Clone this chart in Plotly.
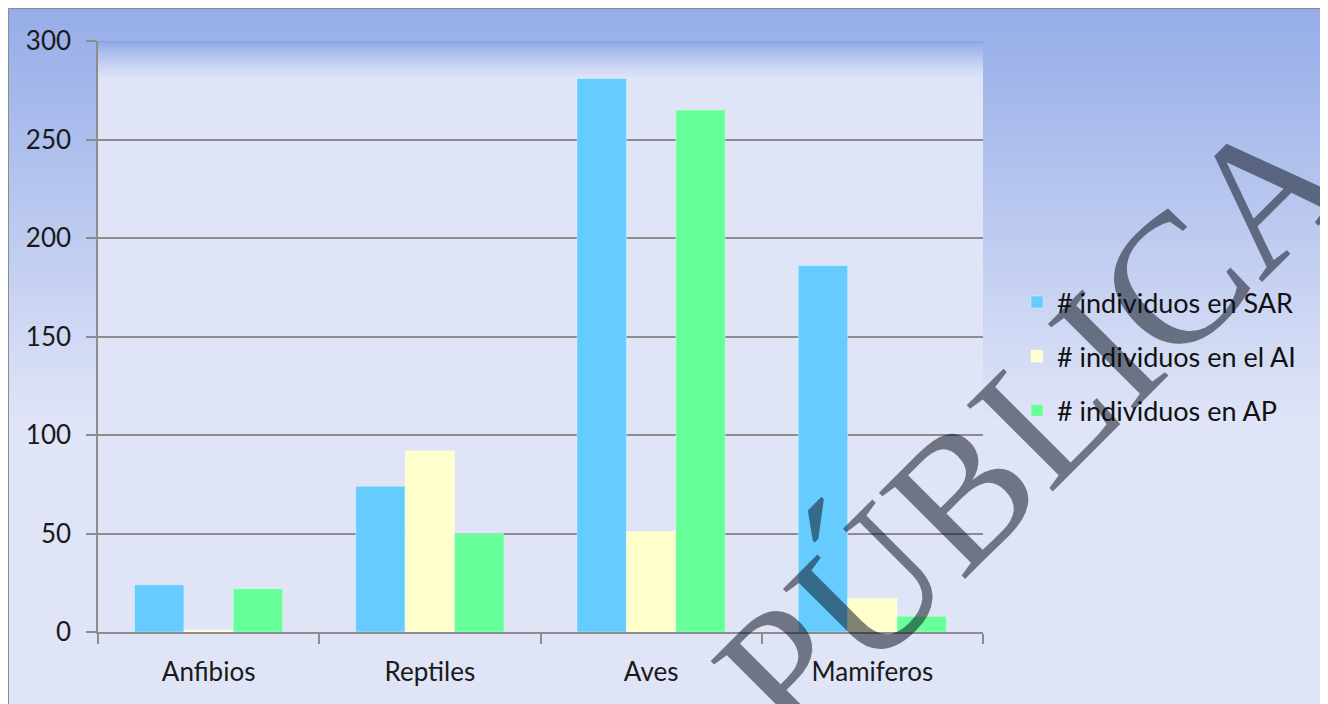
import plotly.graph_objects as go

categorias = ["Anfibios", "Reptiles", "Aves", "Mamiferos"]
series = [
    "# individuos en SAR",
    "# individuos en el AI",
    "# individuos en AP",
]
sar = [24, 74, 281, 186]
ai = [1, 92, 51, 17]
ap = [22, 50, 265, 8]
colores = ["#66CCFF", "#FFFFCC", "#66FF99"]

# la pagina html deja 8px de margen en el body
OFF = 8
W, H = 1328 - OFF, 704 - OFF
L, R, T, B = 98 - OFF, 983 - OFF, 41 - OFF, 632 - OFF  # area de trazado


def xp(px):
    # px en coordenadas de la imagen de referencia -> paper
    return (px - OFF - L) / (R - L)


def yp(py):
    return (B - (py - OFF)) / (B - T)


def mix(c0, c1, t):
    return "rgb({},{},{})".format(*[round(a + (b - a) * t) for a, b in zip(c0, c1)])


TOP = (150, 173, 232)
BASE = (223, 228, 247)

shapes = []
# fondo exterior con degradado
shapes.append(dict(type="rect", xref="paper", yref="paper", x0=xp(0), x1=xp(1340),
                   y0=yp(0), y1=yp(720), fillcolor=mix(TOP, BASE, 1), line_width=0, layer="below"))
y0, y1, step = 8, 420, 4
for y in range(y0, y1, step):
    t = (y - y0) / (y1 - y0)
    shapes.append(dict(type="rect", xref="paper", yref="paper", x0=xp(0), x1=xp(1340),
                       y0=yp(y if y > y0 else 0), y1=yp(y + step + 0.5), fillcolor=mix(TOP, BASE, t),
                       line_width=0, layer="below"))
# area de trazado
shapes.append(dict(type="rect", xref="paper", yref="paper", x0=0, x1=1, y0=0, y1=1,
                   fillcolor=mix(BASE, BASE, 0), line_width=0, layer="below"))
PTOP = (143, 166, 230)
for y in range(41, 41 + 36, 2):
    t = ((y - 41) / 36) ** 0.8
    shapes.append(dict(type="rect", xref="paper", yref="paper", x0=0, x1=1,
                       y0=yp(y), y1=yp(y + 2.5), fillcolor=mix(PTOP, BASE, t),
                       line_width=0, layer="below"))
# marco
shapes.append(dict(type="rect", xref="paper", yref="paper", x0=xp(8.5), x1=xp(1326.5),
                   y0=yp(8.5), y1=yp(720), fillcolor="rgba(0,0,0,0)",
                   line=dict(color="#8c8c8c", width=1), layer="below"))

fig = go.Figure()
for i, (nombre, valores) in enumerate(zip(series, [sar, ai, ap])):
    fig.add_trace(go.Bar(
        x=categorias, y=valores, name=nombre, legendgroup=nombre,
        marker=dict(color=colores[i], line=dict(color="rgba(255,255,255,0.35)", width=1)),
    ))

font_ui = "Lato, Carlito, Calibri, sans-serif"
fig.update_layout(
    width=W, height=H,
    margin=dict(l=L, r=W - R, t=T, b=H - B, autoexpand=False),
    paper_bgcolor="white",
    plot_bgcolor="rgba(0,0,0,0)",
    barmode="group", bargap=0.33, bargroupgap=0,
    shapes=shapes,
    font=dict(family=font_ui, size=26, color="#1a1a1a"),
    showlegend=True,
    legend=dict(
        x=xp(1017), y=yp(278), xanchor="left", yanchor="top",
        bgcolor="rgba(0,0,0,0)", tracegroupgap=16, itemwidth=30,
        font=dict(family=font_ui, size=27, color="#111111"),
    ),
    annotations=[dict(
        text="PÚBLICA", xref="paper", yref="paper", x=xp(1030), y=yp(425),
        xanchor="center", yanchor="middle", showarrow=False, textangle=-45,
        font=dict(family="Liberation Serif, Times New Roman, serif", size=186,
                  color="rgba(8,15,26,0.52)"),
    )],
)
fig.update_xaxes(
    showline=True, linecolor="#8c8c8c", linewidth=1.5,
    ticks="outside", tickson="boundaries", ticklen=10, tickcolor="#8c8c8c", tickwidth=1.5,
    showgrid=False, ticklabelstandoff=16,
)
fig.update_yaxes(
    range=[0, 300], dtick=50, showline=True, linecolor="#8c8c8c", linewidth=1.5,
    ticks="outside", ticklen=10, tickcolor="#8c8c8c", tickwidth=1.5,
    showgrid=True, gridcolor="#8c8c8c", gridwidth=1.5, zeroline=False,
    ticklabelstandoff=10,
)

fig.write_html("out.html")
